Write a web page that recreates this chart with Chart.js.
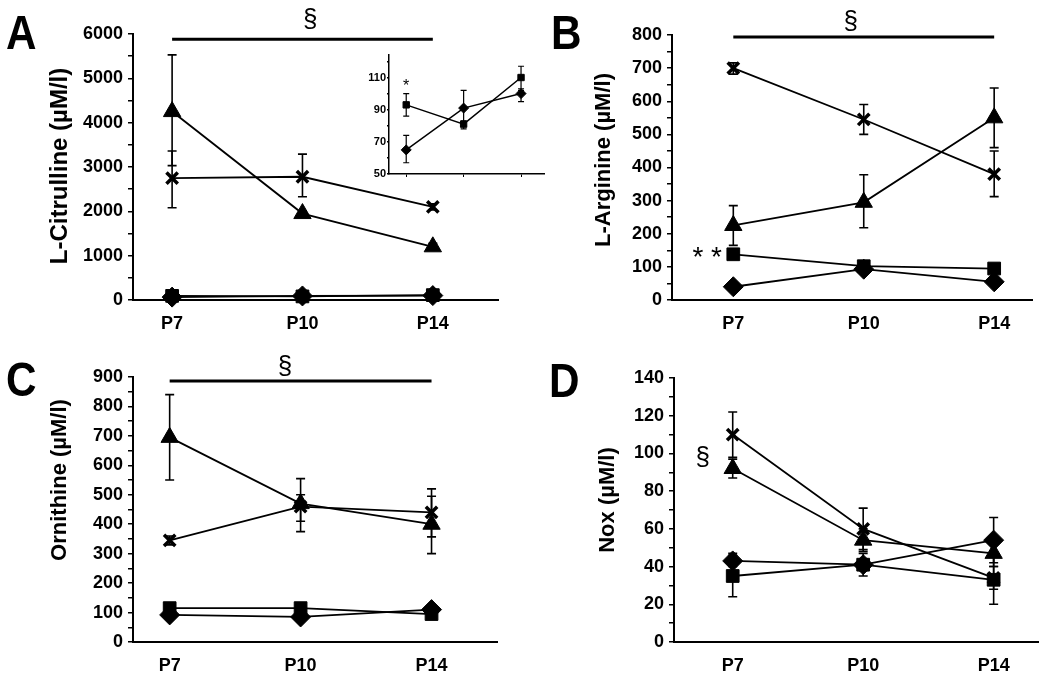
<!DOCTYPE html>
<html>
<head>
<meta charset="utf-8">
<script src="https://cdn.jsdelivr.net/npm/chart.js@4.4.0/dist/chart.umd.min.js"></script>
<style>
  body { margin: 0; background: #fff; }
  #wrap { position: relative; width: 1050px; height: 679px; overflow: hidden; }
  canvas { position: absolute; }
  .letter { position: absolute; font: bold 48px "Liberation Sans", Arial, sans-serif; line-height: 1; transform: scaleX(0.88); transform-origin: left top; }
</style>
</head>
<body>
<div id="wrap">
  <canvas id="chartA" style="left:0px;top:0px" width="525" height="339"></canvas>
  <canvas id="chartB" style="left:525px;top:0px" width="525" height="339"></canvas>
  <canvas id="chartC" style="left:0px;top:339px" width="525" height="340"></canvas>
  <canvas id="chartD" style="left:525px;top:339px" width="525" height="340"></canvas>
  <canvas id="inset" style="left:355px;top:45px" width="195" height="140"></canvas>
  <div class="letter" style="left:6px;top:9px">A</div>
  <div class="letter" style="left:551px;top:9px">B</div>
  <div class="letter" style="left:6px;top:356px">C</div>
  <div class="letter" style="left:549px;top:357px">D</div>
</div>
<script>
const periods = ["P7", "P10", "P14"];

// A - L-Citrulline
const citDiamond = [65, 91, 100];
const citSquare = [93, 81, 110];
const citTriangle = [4250, 1950, 1200];
const citCross = [2750, 2780, 2100];
const citTriangleErr = [[3030, 5530], [1900, 2000], [1130, 1280]];
const citCrossErr = [[2080, 3360], [2330, 3290], [2030, 2170]];
const citDiamondErr = [[57, 74], [80, 102], [95, 102]];
const citSquareErr = [[86, 100], [78, 83], [103, 117]];

// B - L-Arginine
const argDiamond = [40, 93, 55];
const argSquare = [138, 102, 95];
const argTriangle = [225, 295, 550];
const argCross = [700, 545, 380];
const argDiamondErr = [null, [85, 101], [49, 61]];
const argSquareErr = [null, [94, 110], null];
const argTriangleErr = [[165, 285], [218, 378], [460, 640]];
const argCrossErr = [[682, 716], [500, 590], [312, 450]];

// C - Ornithine
const ornDiamond = [92, 85, 110];
const ornSquare = [115, 115, 95];
const ornTriangle = [695, 470, 400];
const ornCross = [345, 460, 440];
const ornDiamondErr = [null, null, [102, 118]];
const ornSquareErr = [null, null, [88, 102]];
const ornTriangleErr = [[550, 840], [410, 500], [300, 495]];
const ornCrossErr = [[330, 360], [375, 555], [357, 520]];

// D - Nox
const noxDiamond = [43, 41, 54];
const noxSquare = [35, 41, 33];
const noxTriangle = [92, 54, 47];
const noxCross = [110, 60, 34];
const noxDiamondErr = [[40, 47], [38, 44], [42, 66]];
const noxSquareErr = [[24, 46], [35, 47], [20, 46]];
const noxTriangleErr = [[87, 97], [48, 60], [40, 54]];
const noxCrossErr = [[98, 122], [49, 71], [28, 40]];

const FONT = '"Liberation Sans", Arial, sans-serif';
Chart.defaults.font.family = FONT;
Chart.defaults.font.weight = "bold";
Chart.defaults.color = "#000";

const range = (from, to, step) => {
  const out = [];
  for (let v = from; v <= to + 1e-9; v += step) out.push(v);
  return out;
};

const serie = (label, values, errors, style, radius, lineWidth) => ({
  label,
  data: values.map((v, i) => ({ x: i, y: v })),
  errors,
  pointStyle: style,
  pointRadius: radius,
  pointHoverRadius: radius,
  borderColor: "#000",
  backgroundColor: "#000",
  pointBorderColor: "#000",
  pointBackgroundColor: "#000",
  pointBorderWidth: style === "crossRot" ? 3.5 : 1,
  borderWidth: lineWidth,
  tension: 0,
  clip: false,
});

// draws the error bars under the markers
const errorBars = (cap, width) => ({
  id: "errorBars",
  beforeDatasetsDraw(chart) {
    const { ctx, scales: { x, y } } = chart;
    ctx.save();
    ctx.strokeStyle = "#000";
    ctx.lineWidth = width;
    chart.data.datasets.forEach((ds) => {
      (ds.errors || []).forEach((e, i) => {
        if (!e) return;
        const px = x.getPixelForValue(i);
        const lo = y.getPixelForValue(e[0]);
        const hi = y.getPixelForValue(e[1]);
        ctx.beginPath();
        ctx.moveTo(px, lo); ctx.lineTo(px, hi);
        ctx.moveTo(px - cap, lo); ctx.lineTo(px + cap, lo);
        ctx.moveTo(px - cap, hi); ctx.lineTo(px + cap, hi);
        ctx.stroke();
      });
    });
    ctx.restore();
  },
});

// axis title, significance bar and symbols
const extras = (cfg) => ({
  id: "extras",
  afterDraw(chart) {
    const { ctx, scales: { x, y } } = chart;
    ctx.save();
    ctx.fillStyle = "#000";
    ctx.strokeStyle = "#000";
    if (cfg.title) {
      ctx.save();
      ctx.translate(cfg.title.x, cfg.title.y);
      ctx.rotate(-Math.PI / 2);
      ctx.font = "bold " + cfg.title.size + "px " + FONT;
      ctx.textAlign = "center";
      ctx.textBaseline = "middle";
      ctx.fillText(cfg.title.text, 0, 0);
      ctx.restore();
    }
    if (cfg.bar != null) {
      ctx.lineWidth = 3;
      ctx.beginPath();
      ctx.moveTo(x.getPixelForValue(0), y.getPixelForValue(cfg.bar));
      ctx.lineTo(x.getPixelForValue(2), y.getPixelForValue(cfg.bar));
      ctx.stroke();
    }
    (cfg.notes || []).forEach((n) => {
      ctx.font = n.font;
      ctx.textAlign = "center";
      ctx.textBaseline = "middle";
      ctx.fillText(n.text, x.getPixelForValue(n.x), y.getPixelForValue(n.y));
    });
    ctx.restore();
  },
});

const makePanel = (id, p) => {
  const canvas = document.getElementById(id);
  const datasets = [
    serie("diamond", p.diamond, p.diamondErr, "rectRot", p.small ? 5 : 10, p.small ? 1.5 : 1.8),
    serie("square", p.square, p.squareErr, "rect", p.small ? 4.5 : 9, p.small ? 1.5 : 1.8),
  ];
  if (p.triangle) datasets.push(serie("triangle", p.triangle, p.triangleErr, "triangle", 10, 1.8));
  if (p.cross) datasets.push(serie("cross", p.cross, p.crossErr, "crossRot", 8, 1.8));

  const config = {
    type: "line",
    data: { datasets },
    options: {
      responsive: false,
      animation: false,
      devicePixelRatio: 1,
      layout: { padding: { left: 0, top: p.top, right: canvas.width - p.right, bottom: 0 } },
      plugins: { legend: { display: false }, tooltip: { enabled: false } },
      scales: {
        x: {
          type: "linear",
          min: p.xMin,
          max: p.xMax,
          afterBuildTicks: (axis) => { axis.ticks = [0, 1, 2].map((v) => ({ value: v })); },
          afterFit: (axis) => { axis.height = canvas.height - p.bottom; },
          ticks: {
            autoSkip: false,
            maxRotation: 0,
            padding: p.small ? 0 : 13,
            font: { size: 18, weight: "bold" },
            callback: (v) => (p.small ? "" : periods[v]),
          },
          grid: p.small
            ? { display: true, drawOnChartArea: false, drawTicks: true, tickLength: 3, color: "#000" }
            : { display: false, drawTicks: false },
          border: { display: true, color: "#000", width: p.small ? 1.5 : 2 },
        },
        y: {
          type: "linear",
          min: p.yMin,
          max: p.yMax,
          afterBuildTicks: (axis) => {
            axis.ticks = range(p.yMin, p.yTop, p.yStep).map((v) => ({ value: v }));
          },
          afterFit: (axis) => { axis.width = p.left; },
          ticks: {
            autoSkip: false,
            padding: p.small ? 1 : 5,
            font: { size: p.small ? 11 : 18, weight: "bold" },
            callback: (v) => (p.major.includes(v) ? v : ""),
          },
          grid: { display: true, drawOnChartArea: false, drawTicks: true, tickLength: p.small ? 2 : 5, color: "#000", lineWidth: 1.5 },
          border: { display: true, color: "#000", width: p.small ? 1.5 : 2 },
        },
      },
    },
    plugins: [errorBars(p.small ? 3 : 4.5, p.small ? 1.2 : 1.6), extras(p.extras)],
  };
  return new Chart(canvas, config);
};

makePanel("chartA", {
  diamond: citDiamond, square: citSquare, triangle: citTriangle, cross: citCross,
  diamondErr: null, squareErr: null, triangleErr: citTriangleErr, crossErr: citCrossErr,
  left: 133, right: 498, top: 34, bottom: 300, xMin: -0.3, xMax: 2.5,
  yMin: 0, yMax: 6000, yTop: 6000, yStep: 500, major: range(0, 6000, 1000),
  extras: {
    title: { text: "L-Citrulline (µM/l)", x: 60, y: 166, size: 24 },
    bar: 5880,
    notes: [{ text: "§", x: 1.06, y: 6320, font: "26px " + FONT }],
  },
});

makePanel("inset", {
  small: true,
  diamond: citDiamond, square: citSquare,
  diamondErr: citDiamondErr, squareErr: citSquareErr,
  left: 34, right: 190, top: 10, bottom: 129, xMin: -0.3, xMax: 2.4,
  yMin: 50, yMax: 124, yTop: 120, yStep: 10, major: [50, 70, 90, 110],
  extras: { notes: [{ text: "*", x: 0, y: 104.5, font: "16px " + FONT }] },
});

makePanel("chartB", {
  diamond: argDiamond, square: argSquare, triangle: argTriangle, cross: argCross,
  diamondErr: argDiamondErr, squareErr: argSquareErr, triangleErr: argTriangleErr, crossErr: argCrossErr,
  left: 147, right: 507, top: 35, bottom: 300, xMin: -0.47, xMax: 2.29,
  yMin: 0, yMax: 800, yTop: 800, yStep: 50, major: range(0, 800, 100),
  extras: {
    title: { text: "L-Arginine (µM/l)", x: 79, y: 160, size: 22 },
    bar: 794,
    notes: [
      { text: "§", x: 0.9, y: 840, font: "26px " + FONT },
      { text: "* *", x: -0.2, y: 125, font: "28px " + FONT },
    ],
  },
});

makePanel("chartC", {
  diamond: ornDiamond, square: ornSquare, triangle: ornTriangle, cross: ornCross,
  diamondErr: ornDiamondErr, squareErr: ornSquareErr, triangleErr: ornTriangleErr, crossErr: ornCrossErr,
  left: 133, right: 497, top: 38, bottom: 303, xMin: -0.28, xMax: 2.5,
  yMin: 0, yMax: 900, yTop: 900, yStep: 50, major: range(0, 900, 100),
  extras: {
    title: { text: "Ornithine (µM/l)", x: 60, y: 141, size: 22 },
    bar: 886,
    notes: [{ text: "§", x: 0.88, y: 934, font: "26px " + FONT }],
  },
});

makePanel("chartD", {
  diamond: noxDiamond, square: noxSquare, triangle: noxTriangle, cross: noxCross,
  diamondErr: noxDiamondErr, squareErr: noxSquareErr, triangleErr: noxTriangleErr, crossErr: noxCrossErr,
  left: 149, right: 513, top: 39, bottom: 303, xMin: -0.45, xMax: 2.34,
  yMin: 0, yMax: 140, yTop: 140, yStep: 10, major: range(0, 140, 20),
  extras: {
    title: { text: "Nox (µM/l)", x: 83, y: 161, size: 22 },
    notes: [{ text: "§", x: -0.23, y: 97.5, font: "26px " + FONT }],
  },
});
</script>
</body>
</html>
